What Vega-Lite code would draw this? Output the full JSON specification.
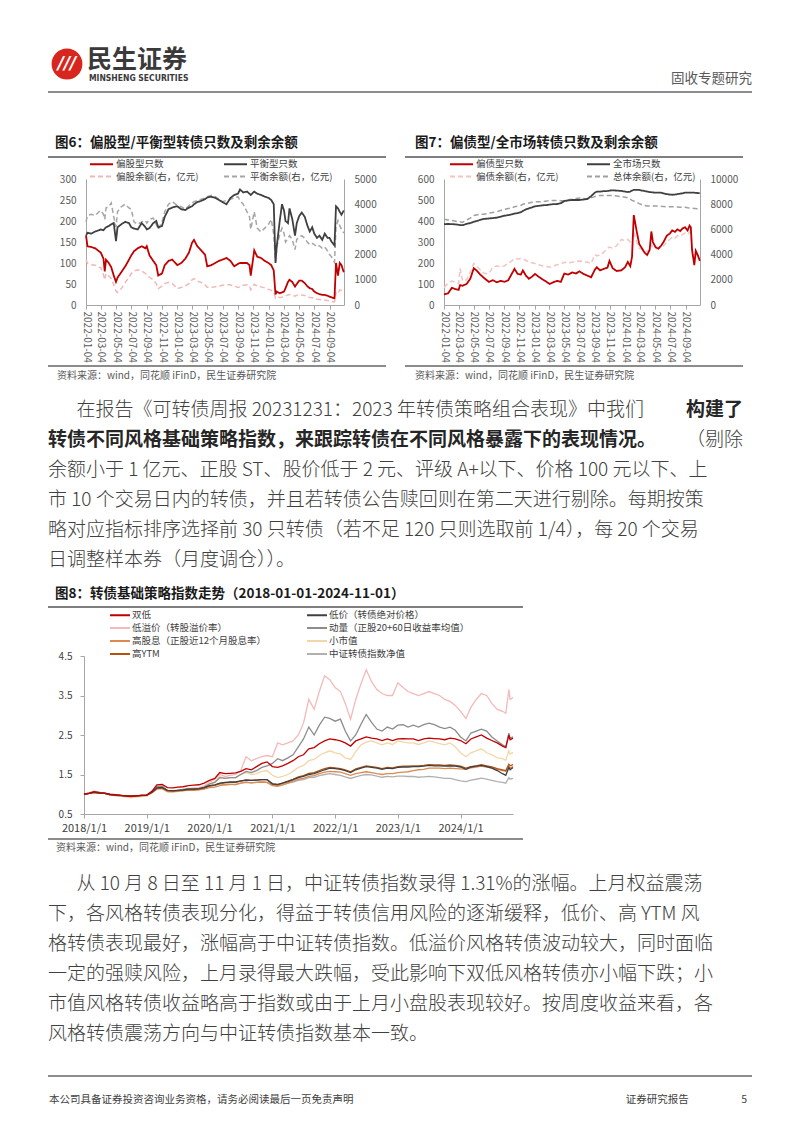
{
"$schema": "https://vega.github.io/schema/vega-lite/v6.json",
"background": "white",
"padding": {"left": 48, "top": 41, "right": 0, "bottom": 0},
"spacing": 0,
"resolve": {"scale": {"color": "independent", "strokeDash": "independent"}, "legend": {"color": "independent", "strokeDash": "independent"}},
"datasets": {
"n6": [{"key":"r","s":"偏股型只数"},{"key":"b","s":"平衡型只数"},{"key":"rp","s":"偏股余额(右，亿元)"},{"key":"bp","s":"平衡余额(右，亿元)"}],
"n7": [{"key":"r","s":"偏债型只数"},{"key":"b","s":"全市场只数"},{"key":"rp","s":"偏债余额(右，亿元)"},{"key":"bp","s":"总体余额(右，亿元)"}],
"n8": [{"key":"a","s":"双低"},{"key":"b","s":"低价（转债绝对价格）"},{"key":"c","s":"低溢价（转股溢价率）"},{"key":"d","s":"动量（正股20+60日收益率均值）"},{"key":"e","s":"高股息（正股近12个月股息率）"},{"key":"f","s":"小市值"},{"key":"g","s":"高YTM"},{"key":"h","s":"中证转债指数净值"}],
"f6": [
{"date":"2022-01-04","r":165,"b":165,"rp":1800,"bp":3300},
{"date":"2022-01-10","r":140,"b":172,"rp":1650,"bp":3550},
{"date":"2022-01-25","r":138,"b":170,"rp":1600,"bp":3600},
{"date":"2022-02-10","r":135,"b":175,"rp":1580,"bp":3550},
{"date":"2022-02-25","r":128,"b":178,"rp":1500,"bp":3700},
{"date":"2022-03-04","r":125,"b":180,"rp":1480,"bp":3750},
{"date":"2022-03-15","r":110,"b":178,"rp":1200,"bp":3600},
{"date":"2022-03-20","r":80,"b":182,"rp":1000,"bp":3400},
{"date":"2022-03-25","r":108,"b":185,"rp":1250,"bp":3850},
{"date":"2022-04-05","r":100,"b":188,"rp":1150,"bp":3900},
{"date":"2022-04-15","r":90,"b":192,"rp":1050,"bp":4050},
{"date":"2022-04-25","r":70,"b":195,"rp":800,"bp":3500},
{"date":"2022-05-04","r":55,"b":152,"rp":550,"bp":3100},
{"date":"2022-05-10","r":65,"b":185,"rp":500,"bp":3700},
{"date":"2022-05-25","r":78,"b":192,"rp":650,"bp":3900},
{"date":"2022-06-10","r":92,"b":198,"rp":900,"bp":4000},
{"date":"2022-06-25","r":108,"b":195,"rp":1100,"bp":3850},
{"date":"2022-07-04","r":118,"b":185,"rp":1250,"bp":3800},
{"date":"2022-07-15","r":128,"b":182,"rp":1350,"bp":3300},
{"date":"2022-07-30","r":135,"b":180,"rp":1400,"bp":3200},
{"date":"2022-08-15","r":140,"b":195,"rp":1350,"bp":3300},
{"date":"2022-08-30","r":135,"b":185,"rp":1250,"bp":3350},
{"date":"2022-09-04","r":140,"b":180,"rp":1200,"bp":3250},
{"date":"2022-09-15","r":118,"b":183,"rp":1100,"bp":3400},
{"date":"2022-09-30","r":105,"b":195,"rp":1000,"bp":3450},
{"date":"2022-10-12","r":95,"b":200,"rp":850,"bp":3200},
{"date":"2022-10-20","r":70,"b":185,"rp":650,"bp":3000},
{"date":"2022-11-04","r":75,"b":188,"rp":750,"bp":3300},
{"date":"2022-11-15","r":95,"b":210,"rp":850,"bp":3700},
{"date":"2022-11-30","r":105,"b":228,"rp":900,"bp":4000},
{"date":"2022-12-15","r":108,"b":232,"rp":850,"bp":4100},
{"date":"2023-01-04","r":95,"b":235,"rp":650,"bp":3950},
{"date":"2023-01-20","r":100,"b":228,"rp":700,"bp":3900},
{"date":"2023-02-05","r":110,"b":226,"rp":750,"bp":3800},
{"date":"2023-02-20","r":125,"b":232,"rp":850,"bp":3950},
{"date":"2023-03-04","r":148,"b":235,"rp":1000,"bp":4050},
{"date":"2023-03-12","r":155,"b":240,"rp":1050,"bp":4100},
{"date":"2023-03-25","r":140,"b":245,"rp":950,"bp":4150},
{"date":"2023-04-10","r":130,"b":248,"rp":900,"bp":4200},
{"date":"2023-04-25","r":120,"b":252,"rp":800,"bp":4250},
{"date":"2023-05-04","r":92,"b":256,"rp":700,"bp":4300},
{"date":"2023-05-20","r":95,"b":258,"rp":700,"bp":4350},
{"date":"2023-06-05","r":100,"b":255,"rp":720,"bp":4300},
{"date":"2023-06-20","r":105,"b":250,"rp":750,"bp":4200},
{"date":"2023-07-04","r":108,"b":245,"rp":780,"bp":4100},
{"date":"2023-07-20","r":112,"b":240,"rp":800,"bp":4150},
{"date":"2023-08-05","r":105,"b":255,"rp":800,"bp":4200},
{"date":"2023-08-20","r":92,"b":262,"rp":750,"bp":4250},
{"date":"2023-09-04","r":98,"b":265,"rp":700,"bp":4300},
{"date":"2023-09-12","r":100,"b":275,"rp":720,"bp":4150},
{"date":"2023-09-25","r":100,"b":268,"rp":780,"bp":4000},
{"date":"2023-10-10","r":100,"b":270,"rp":800,"bp":3700},
{"date":"2023-10-20","r":95,"b":265,"rp":750,"bp":3500},
{"date":"2023-10-25","r":70,"b":262,"rp":600,"bp":3000},
{"date":"2023-11-08","r":130,"b":270,"rp":820,"bp":3700},
{"date":"2023-11-20","r":115,"b":265,"rp":760,"bp":3050},
{"date":"2023-12-05","r":112,"b":262,"rp":720,"bp":2900},
{"date":"2023-12-20","r":105,"b":258,"rp":680,"bp":3050},
{"date":"2024-01-04","r":100,"b":255,"rp":620,"bp":3200},
{"date":"2024-01-15","r":95,"b":250,"rp":580,"bp":3400},
{"date":"2024-01-25","r":82,"b":240,"rp":500,"bp":2800},
{"date":"2024-02-01","r":25,"b":100,"rp":280,"bp":1700},
{"date":"2024-02-06","r":32,"b":140,"rp":320,"bp":2300},
{"date":"2024-02-18","r":28,"b":200,"rp":300,"bp":2800},
{"date":"2024-02-27","r":30,"b":240,"rp":310,"bp":3050},
{"date":"2024-03-06","r":32,"b":225,"rp":340,"bp":2850},
{"date":"2024-03-12","r":40,"b":200,"rp":360,"bp":2500},
{"date":"2024-03-22","r":55,"b":195,"rp":400,"bp":2650},
{"date":"2024-03-28","r":60,"b":230,"rp":420,"bp":2750},
{"date":"2024-04-08","r":55,"b":205,"rp":400,"bp":2600},
{"date":"2024-04-19","r":44,"b":165,"rp":350,"bp":2200},
{"date":"2024-04-26","r":50,"b":195,"rp":380,"bp":2600},
{"date":"2024-05-06","r":58,"b":212,"rp":420,"bp":2700},
{"date":"2024-05-16","r":58,"b":220,"rp":400,"bp":2750},
{"date":"2024-05-28","r":52,"b":210,"rp":380,"bp":2650},
{"date":"2024-06-07","r":45,"b":190,"rp":330,"bp":2500},
{"date":"2024-06-17","r":40,"b":175,"rp":300,"bp":2400},
{"date":"2024-06-27","r":38,"b":185,"rp":290,"bp":2450},
{"date":"2024-07-05","r":32,"b":170,"rp":260,"bp":2400},
{"date":"2024-07-16","r":28,"b":160,"rp":230,"bp":2300},
{"date":"2024-07-26","r":26,"b":165,"rp":220,"bp":2350},
{"date":"2024-08-06","r":24,"b":155,"rp":200,"bp":2250},
{"date":"2024-08-16","r":24,"b":170,"rp":200,"bp":2300},
{"date":"2024-08-27","r":22,"b":160,"rp":180,"bp":2150},
{"date":"2024-09-04","r":20,"b":160,"rp":160,"bp":2000},
{"date":"2024-09-13","r":18,"b":150,"rp":140,"bp":1900},
{"date":"2024-09-24","r":16,"b":142,"rp":120,"bp":1700},
{"date":"2024-09-30","r":100,"b":235,"rp":500,"bp":3100},
{"date":"2024-10-08","r":70,"b":230,"rp":450,"bp":3350},
{"date":"2024-10-15","r":100,"b":222,"rp":600,"bp":3150},
{"date":"2024-10-22","r":95,"b":215,"rp":580,"bp":3000},
{"date":"2024-10-31","r":78,"b":225,"rp":550,"bp":2850}
],
"f7": [
{"date":"2022-01-04","r":50,"b":385,"rp":1400,"bp":6800},
{"date":"2022-01-20","r":55,"b":386,"rp":1700,"bp":6750},
{"date":"2022-02-05","r":82,"b":385,"rp":1900,"bp":6700},
{"date":"2022-02-20","r":75,"b":384,"rp":1800,"bp":6650},
{"date":"2022-03-04","r":72,"b":382,"rp":1700,"bp":6600},
{"date":"2022-03-10","r":95,"b":380,"rp":2900,"bp":6600},
{"date":"2022-03-20","r":92,"b":380,"rp":1900,"bp":6550},
{"date":"2022-04-05","r":100,"b":386,"rp":2000,"bp":6750},
{"date":"2022-04-20","r":125,"b":390,"rp":2600,"bp":6900},
{"date":"2022-05-04","r":175,"b":396,"rp":3300,"bp":7100},
{"date":"2022-05-15","r":165,"b":400,"rp":3100,"bp":7150},
{"date":"2022-05-30","r":145,"b":405,"rp":2800,"bp":7200},
{"date":"2022-06-15","r":128,"b":410,"rp":2500,"bp":7200},
{"date":"2022-07-04","r":110,"b":412,"rp":2500,"bp":7300},
{"date":"2022-07-20","r":118,"b":414,"rp":3000,"bp":7350},
{"date":"2022-08-05","r":108,"b":416,"rp":3100,"bp":7400},
{"date":"2022-08-20","r":115,"b":420,"rp":3050,"bp":7500},
{"date":"2022-09-04","r":110,"b":425,"rp":3100,"bp":7600},
{"date":"2022-09-20","r":118,"b":428,"rp":3300,"bp":7650},
{"date":"2022-10-05","r":150,"b":432,"rp":3500,"bp":7700},
{"date":"2022-10-15","r":172,"b":435,"rp":3700,"bp":7800},
{"date":"2022-10-28","r":148,"b":438,"rp":3650,"bp":7850},
{"date":"2022-11-10","r":145,"b":442,"rp":3700,"bp":7900},
{"date":"2022-11-18","r":165,"b":448,"rp":3650,"bp":8000},
{"date":"2022-11-30","r":140,"b":455,"rp":3550,"bp":8050},
{"date":"2022-12-12","r":125,"b":460,"rp":3400,"bp":8100},
{"date":"2022-12-25","r":135,"b":465,"rp":3350,"bp":8150},
{"date":"2023-01-06","r":148,"b":470,"rp":3300,"bp":8200},
{"date":"2023-01-20","r":135,"b":472,"rp":3200,"bp":8200},
{"date":"2023-02-08","r":120,"b":475,"rp":3100,"bp":8200},
{"date":"2023-02-22","r":110,"b":476,"rp":3050,"bp":8250},
{"date":"2023-03-06","r":100,"b":478,"rp":3000,"bp":8300},
{"date":"2023-03-20","r":108,"b":480,"rp":3100,"bp":8300},
{"date":"2023-04-05","r":115,"b":481,"rp":3200,"bp":8300},
{"date":"2023-04-20","r":110,"b":485,"rp":3250,"bp":8280},
{"date":"2023-05-04","r":150,"b":495,"rp":3400,"bp":8300},
{"date":"2023-05-20","r":145,"b":498,"rp":3350,"bp":8350},
{"date":"2023-06-05","r":155,"b":500,"rp":3400,"bp":8400},
{"date":"2023-06-20","r":150,"b":500,"rp":3450,"bp":8450},
{"date":"2023-07-04","r":160,"b":500,"rp":3500,"bp":8500},
{"date":"2023-07-20","r":148,"b":502,"rp":3450,"bp":8450},
{"date":"2023-08-05","r":140,"b":505,"rp":3400,"bp":8400},
{"date":"2023-08-20","r":132,"b":518,"rp":3300,"bp":8500},
{"date":"2023-09-04","r":168,"b":535,"rp":4000,"bp":8600},
{"date":"2023-09-12","r":180,"b":540,"rp":3900,"bp":8650},
{"date":"2023-09-25","r":165,"b":540,"rp":3950,"bp":8700},
{"date":"2023-10-10","r":172,"b":542,"rp":4200,"bp":8700},
{"date":"2023-10-25","r":178,"b":543,"rp":4500,"bp":8700},
{"date":"2023-11-02","r":210,"b":545,"rp":4600,"bp":8700},
{"date":"2023-11-15","r":175,"b":546,"rp":4500,"bp":8680},
{"date":"2023-12-01","r":162,"b":545,"rp":4700,"bp":8650},
{"date":"2023-12-20","r":165,"b":543,"rp":5200,"bp":8600},
{"date":"2024-01-04","r":180,"b":540,"rp":5100,"bp":8550},
{"date":"2024-01-15","r":205,"b":538,"rp":5200,"bp":8500},
{"date":"2024-01-25","r":185,"b":540,"rp":5000,"bp":8400},
{"date":"2024-02-01","r":230,"b":545,"rp":5100,"bp":8300},
{"date":"2024-02-08","r":428,"b":548,"rp":5800,"bp":8250},
{"date":"2024-02-20","r":350,"b":548,"rp":5000,"bp":8150},
{"date":"2024-03-01","r":290,"b":548,"rp":4500,"bp":8050},
{"date":"2024-03-12","r":270,"b":545,"rp":4400,"bp":7950},
{"date":"2024-03-22","r":250,"b":543,"rp":4300,"bp":7900},
{"date":"2024-04-02","r":238,"b":540,"rp":4250,"bp":7850},
{"date":"2024-04-12","r":262,"b":538,"rp":4400,"bp":7850},
{"date":"2024-04-19","r":350,"b":537,"rp":4800,"bp":7850},
{"date":"2024-04-25","r":300,"b":536,"rp":4600,"bp":7850},
{"date":"2024-05-06","r":275,"b":535,"rp":4500,"bp":7850},
{"date":"2024-05-17","r":268,"b":535,"rp":4450,"bp":7850},
{"date":"2024-05-28","r":282,"b":535,"rp":4600,"bp":7830},
{"date":"2024-06-07","r":300,"b":532,"rp":4700,"bp":7820},
{"date":"2024-06-20","r":330,"b":528,"rp":5000,"bp":7800},
{"date":"2024-07-02","r":340,"b":526,"rp":5200,"bp":7800},
{"date":"2024-07-12","r":355,"b":525,"rp":5400,"bp":7800},
{"date":"2024-07-23","r":348,"b":526,"rp":5300,"bp":7780},
{"date":"2024-08-02","r":360,"b":528,"rp":5500,"bp":7780},
{"date":"2024-08-13","r":352,"b":530,"rp":5450,"bp":7760},
{"date":"2024-08-23","r":365,"b":532,"rp":5600,"bp":7750},
{"date":"2024-09-02","r":370,"b":535,"rp":5700,"bp":7750},
{"date":"2024-09-12","r":355,"b":535,"rp":5600,"bp":7720},
{"date":"2024-09-20","r":378,"b":535,"rp":5800,"bp":7700},
{"date":"2024-09-25","r":370,"b":535,"rp":5700,"bp":7700},
{"date":"2024-09-30","r":262,"b":535,"rp":4300,"bp":7680},
{"date":"2024-10-09","r":190,"b":535,"rp":3300,"bp":7650},
{"date":"2024-10-15","r":258,"b":534,"rp":4200,"bp":7650},
{"date":"2024-10-24","r":235,"b":533,"rp":3900,"bp":7620},
{"date":"2024-10-31","r":210,"b":533,"rp":3600,"bp":7600}
],
"f8": [
{"date":"2018-01-01","a":1.00,"b":1.00,"c":1.00,"d":1.00,"e":1.00,"f":1.00,"g":1.00,"h":1.00},
{"date":"2018-02-01","a":1.03,"b":1.02,"c":1.04,"d":1.03,"e":1.02,"f":1.03,"g":1.02,"h":1.02},
{"date":"2018-03-01","a":1.06,"b":1.05,"c":1.08,"d":1.07,"e":1.05,"f":1.06,"g":1.05,"h":1.05},
{"date":"2018-04-01","a":1.04,"b":1.03,"c":1.05,"d":1.05,"e":1.03,"f":1.03,"g":1.03,"h":1.03},
{"date":"2018-05-01","a":1.03,"b":1.02,"c":1.03,"d":1.03,"e":1.02,"f":1.02,"g":1.02,"h":1.02},
{"date":"2018-06-01","a":1.00,"b":0.99,"c":1.00,"d":0.99,"e":0.99,"f":0.98,"g":0.99,"h":0.98},
{"date":"2018-07-01","a":0.99,"b":0.98,"c":0.98,"d":0.97,"e":0.98,"f":0.96,"g":0.98,"h":0.97},
{"date":"2018-08-01","a":0.97,"b":0.97,"c":0.96,"d":0.96,"e":0.97,"f":0.95,"g":0.97,"h":0.96},
{"date":"2018-09-01","a":0.96,"b":0.96,"c":0.95,"d":0.95,"e":0.96,"f":0.93,"g":0.96,"h":0.95},
{"date":"2018-10-01","a":0.95,"b":0.95,"c":0.93,"d":0.94,"e":0.95,"f":0.91,"g":0.95,"h":0.94},
{"date":"2018-11-01","a":0.96,"b":0.96,"c":0.95,"d":0.95,"e":0.96,"f":0.93,"g":0.96,"h":0.95},
{"date":"2018-12-01","a":0.97,"b":0.97,"c":0.96,"d":0.96,"e":0.97,"f":0.94,"g":0.97,"h":0.96},
{"date":"2019-01-01","a":0.98,"b":0.98,"c":0.97,"d":0.97,"e":0.97,"f":0.95,"g":0.98,"h":0.96},
{"date":"2019-02-01","a":1.08,"b":1.05,"c":1.06,"d":1.06,"e":1.04,"f":1.03,"g":1.05,"h":1.05},
{"date":"2019-03-01","a":1.24,"b":1.16,"c":1.20,"d":1.20,"e":1.13,"f":1.16,"g":1.15,"h":1.15},
{"date":"2019-04-01","a":1.25,"b":1.17,"c":1.21,"d":1.20,"e":1.14,"f":1.17,"g":1.16,"h":1.15},
{"date":"2019-05-01","a":1.17,"b":1.10,"c":1.10,"d":1.09,"e":1.07,"f":1.06,"g":1.09,"h":1.07},
{"date":"2019-06-01","a":1.16,"b":1.09,"c":1.08,"d":1.08,"e":1.07,"f":1.05,"g":1.08,"h":1.06},
{"date":"2019-07-01","a":1.18,"b":1.10,"c":1.10,"d":1.10,"e":1.08,"f":1.07,"g":1.09,"h":1.08},
{"date":"2019-08-01","a":1.19,"b":1.11,"c":1.12,"d":1.12,"e":1.09,"f":1.09,"g":1.10,"h":1.09},
{"date":"2019-09-01","a":1.22,"b":1.13,"c":1.15,"d":1.14,"e":1.10,"f":1.12,"g":1.12,"h":1.11},
{"date":"2019-10-01","a":1.23,"b":1.13,"c":1.16,"d":1.14,"e":1.10,"f":1.12,"g":1.12,"h":1.11},
{"date":"2019-11-01","a":1.24,"b":1.14,"c":1.17,"d":1.15,"e":1.11,"f":1.13,"g":1.13,"h":1.12},
{"date":"2019-12-01","a":1.28,"b":1.17,"c":1.21,"d":1.18,"e":1.13,"f":1.17,"g":1.16,"h":1.15},
{"date":"2020-01-01","a":1.35,"b":1.22,"c":1.30,"d":1.26,"e":1.17,"f":1.25,"g":1.21,"h":1.20},
{"date":"2020-02-01","a":1.40,"b":1.24,"c":1.38,"d":1.30,"e":1.18,"f":1.32,"g":1.23,"h":1.22},
{"date":"2020-03-01","a":1.55,"b":1.28,"c":1.50,"d":1.42,"e":1.22,"f":1.45,"g":1.27,"h":1.26},
{"date":"2020-04-01","a":1.52,"b":1.30,"c":1.45,"d":1.40,"e":1.24,"f":1.40,"g":1.29,"h":1.24},
{"date":"2020-05-01","a":1.53,"b":1.31,"c":1.48,"d":1.42,"e":1.25,"f":1.42,"g":1.30,"h":1.25},
{"date":"2020-06-01","a":1.54,"b":1.31,"c":1.50,"d":1.42,"e":1.25,"f":1.42,"g":1.30,"h":1.24},
{"date":"2020-07-01","a":1.58,"b":1.34,"c":1.60,"d":1.50,"e":1.28,"f":1.50,"g":1.33,"h":1.28},
{"date":"2020-08-01","a":1.65,"b":1.36,"c":1.95,"d":1.58,"e":1.30,"f":1.55,"g":1.36,"h":1.31},
{"date":"2020-09-01","a":1.62,"b":1.35,"c":1.85,"d":1.55,"e":1.29,"f":1.50,"g":1.35,"h":1.29},
{"date":"2020-10-01","a":1.70,"b":1.36,"c":1.90,"d":1.60,"e":1.30,"f":1.52,"g":1.36,"h":1.30},
{"date":"2020-11-01","a":1.78,"b":1.37,"c":1.95,"d":1.68,"e":1.31,"f":1.58,"g":1.37,"h":1.31},
{"date":"2020-12-01","a":1.82,"b":1.37,"c":1.98,"d":1.72,"e":1.30,"f":1.60,"g":1.37,"h":1.30},
{"date":"2021-01-01","a":1.70,"b":1.27,"c":1.95,"d":1.78,"e":1.22,"f":1.48,"g":1.25,"h":1.24},
{"date":"2021-02-01","a":1.68,"b":1.25,"c":2.30,"d":1.90,"e":1.20,"f":1.42,"g":1.24,"h":1.22},
{"date":"2021-03-01","a":1.72,"b":1.28,"c":2.25,"d":1.85,"e":1.24,"f":1.45,"g":1.28,"h":1.24},
{"date":"2021-04-01","a":1.78,"b":1.32,"c":2.30,"d":1.92,"e":1.28,"f":1.50,"g":1.33,"h":1.28},
{"date":"2021-05-01","a":1.85,"b":1.37,"c":2.35,"d":2.00,"e":1.33,"f":1.58,"g":1.38,"h":1.31},
{"date":"2021-06-01","a":1.95,"b":1.42,"c":2.50,"d":2.20,"e":1.38,"f":1.68,"g":1.44,"h":1.35},
{"date":"2021-07-01","a":2.00,"b":1.45,"c":2.80,"d":2.40,"e":1.40,"f":1.73,"g":1.47,"h":1.37},
{"date":"2021-08-01","a":2.15,"b":1.50,"c":3.40,"d":2.70,"e":1.45,"f":1.85,"g":1.53,"h":1.42},
{"date":"2021-09-01","a":2.18,"b":1.52,"c":3.15,"d":2.50,"e":1.47,"f":1.88,"g":1.55,"h":1.43},
{"date":"2021-10-01","a":2.28,"b":1.57,"c":3.60,"d":2.75,"e":1.52,"f":1.98,"g":1.60,"h":1.47},
{"date":"2021-11-01","a":2.35,"b":1.62,"c":4.00,"d":2.95,"e":1.56,"f":2.05,"g":1.65,"h":1.50},
{"date":"2021-12-01","a":2.40,"b":1.66,"c":3.90,"d":2.92,"e":1.58,"f":2.10,"g":1.68,"h":1.52},
{"date":"2022-01-01","a":2.38,"b":1.65,"c":3.70,"d":2.85,"e":1.57,"f":2.05,"g":1.67,"h":1.50},
{"date":"2022-02-01","a":2.35,"b":1.63,"c":3.60,"d":2.90,"e":1.56,"f":2.02,"g":1.65,"h":1.48},
{"date":"2022-03-01","a":2.30,"b":1.60,"c":3.30,"d":2.60,"e":1.52,"f":1.92,"g":1.62,"h":1.44},
{"date":"2022-04-01","a":2.22,"b":1.55,"c":2.90,"d":2.35,"e":1.48,"f":1.88,"g":1.57,"h":1.40},
{"date":"2022-05-01","a":2.35,"b":1.62,"c":3.40,"d":2.50,"e":1.52,"f":2.08,"g":1.64,"h":1.44},
{"date":"2022-06-01","a":2.40,"b":1.66,"c":3.80,"d":2.78,"e":1.55,"f":2.25,"g":1.68,"h":1.48},
{"date":"2022-07-01","a":2.45,"b":1.70,"c":4.15,"d":3.02,"e":1.57,"f":2.32,"g":1.72,"h":1.50},
{"date":"2022-08-01","a":2.42,"b":1.68,"c":3.85,"d":2.82,"e":1.55,"f":2.35,"g":1.70,"h":1.49},
{"date":"2022-09-01","a":2.40,"b":1.66,"c":3.65,"d":2.65,"e":1.52,"f":2.30,"g":1.68,"h":1.46},
{"date":"2022-10-01","a":2.36,"b":1.63,"c":3.55,"d":2.60,"e":1.50,"f":2.25,"g":1.65,"h":1.43},
{"date":"2022-11-01","a":2.40,"b":1.66,"c":3.50,"d":2.70,"e":1.52,"f":2.30,"g":1.68,"h":1.45},
{"date":"2022-12-01","a":2.36,"b":1.65,"c":3.50,"d":2.65,"e":1.52,"f":2.26,"g":1.67,"h":1.44},
{"date":"2023-01-01","a":2.40,"b":1.68,"c":3.82,"d":2.75,"e":1.55,"f":2.35,"g":1.70,"h":1.46},
{"date":"2023-02-01","a":2.41,"b":1.69,"c":3.70,"d":2.76,"e":1.56,"f":2.32,"g":1.71,"h":1.46},
{"date":"2023-03-01","a":2.40,"b":1.69,"c":3.60,"d":2.70,"e":1.57,"f":2.30,"g":1.71,"h":1.45},
{"date":"2023-04-01","a":2.40,"b":1.70,"c":3.55,"d":2.75,"e":1.60,"f":2.30,"g":1.72,"h":1.45},
{"date":"2023-05-01","a":2.36,"b":1.70,"c":3.50,"d":2.70,"e":1.62,"f":2.26,"g":1.72,"h":1.43},
{"date":"2023-06-01","a":2.40,"b":1.71,"c":3.55,"d":2.76,"e":1.63,"f":2.30,"g":1.73,"h":1.44},
{"date":"2023-07-01","a":2.42,"b":1.73,"c":3.60,"d":2.80,"e":1.66,"f":2.35,"g":1.75,"h":1.45},
{"date":"2023-08-01","a":2.41,"b":1.72,"c":3.55,"d":2.76,"e":1.66,"f":2.32,"g":1.74,"h":1.44},
{"date":"2023-09-01","a":2.40,"b":1.72,"c":3.50,"d":2.70,"e":1.66,"f":2.28,"g":1.74,"h":1.42},
{"date":"2023-10-01","a":2.38,"b":1.71,"c":3.40,"d":2.66,"e":1.65,"f":2.25,"g":1.73,"h":1.40},
{"date":"2023-11-01","a":2.42,"b":1.72,"c":3.35,"d":2.70,"e":1.66,"f":2.30,"g":1.74,"h":1.40},
{"date":"2023-12-01","a":2.40,"b":1.71,"c":3.25,"d":2.62,"e":1.65,"f":2.20,"g":1.73,"h":1.37},
{"date":"2024-01-01","a":2.36,"b":1.69,"c":3.10,"d":2.45,"e":1.64,"f":2.05,"g":1.71,"h":1.34},
{"date":"2024-02-01","a":2.28,"b":1.63,"c":2.92,"d":2.35,"e":1.63,"f":1.95,"g":1.66,"h":1.32},
{"date":"2024-03-01","a":2.40,"b":1.69,"c":3.20,"d":2.55,"e":1.67,"f":2.05,"g":1.70,"h":1.36},
{"date":"2024-04-01","a":2.45,"b":1.71,"c":3.40,"d":2.60,"e":1.69,"f":2.10,"g":1.72,"h":1.38},
{"date":"2024-05-01","a":2.50,"b":1.73,"c":3.55,"d":2.65,"e":1.71,"f":2.15,"g":1.75,"h":1.41},
{"date":"2024-06-01","a":2.42,"b":1.70,"c":3.50,"d":2.60,"e":1.69,"f":2.05,"g":1.72,"h":1.38},
{"date":"2024-07-01","a":2.36,"b":1.66,"c":3.30,"d":2.45,"e":1.67,"f":2.00,"g":1.69,"h":1.35},
{"date":"2024-08-01","a":2.30,"b":1.60,"c":3.15,"d":2.35,"e":1.63,"f":1.92,"g":1.65,"h":1.32},
{"date":"2024-09-01","a":2.22,"b":1.52,"c":3.10,"d":2.25,"e":1.60,"f":1.90,"g":1.62,"h":1.30},
{"date":"2024-09-20","a":2.18,"b":1.48,"c":3.05,"d":2.20,"e":1.58,"f":1.86,"g":1.60,"h":1.28},
{"date":"2024-10-08","a":2.50,"b":1.68,"c":3.65,"d":2.55,"e":1.70,"f":2.10,"g":1.76,"h":1.42},
{"date":"2024-10-15","a":2.38,"b":1.62,"c":3.40,"d":2.42,"e":1.66,"f":2.02,"g":1.72,"h":1.38},
{"date":"2024-11-01","a":2.42,"b":1.68,"c":3.45,"d":2.45,"e":1.70,"f":2.06,"g":1.75,"h":1.40}
],
"p1": [
{"line":1,"seg":"start","em":false,"t":"\u200b　\u2002在报告《可转债周报 20231231：2023 年转债策略组合表现》中我们"},
{"line":1,"seg":"end","em":true,"t":"构建了"},
{"line":2,"seg":"start","em":true,"t":"转债不同风格基础策略指数，来跟踪转债在不同风格暴露下的表现情况。"},
{"line":2,"seg":"end","em":false,"t":"（剔除"},
{"line":3,"seg":"start","em":false,"t":"余额小于 1 亿元、正股 ST、股价低于 2 元、评级 A+以下、价格 100 元以下、上"},
{"line":4,"seg":"start","em":false,"t":"市 10 个交易日内的转债，并且若转债公告赎回则在第二天进行剔除。每期按策"},
{"line":5,"seg":"start","em":false,"t":"略对应指标排序选择前 30 只转债（若不足 120 只则选取前 1/4），每 20 个交易"},
{"line":6,"seg":"start","em":false,"t":"日调整样本券（月度调仓））。"}
],
"p2": [
{"line":1,"t":"\u200b　\u2002从 10 月 8 日至 11 月 1 日，中证转债指数录得 1.31%的涨幅。上月权益震荡"},
{"line":2,"t":"下，各风格转债表现分化，得益于转债信用风险的逐渐缓释，低价、高 YTM 风"},
{"line":3,"t":"格转债表现最好，涨幅高于中证转债指数。低溢价风格转债波动较大，同时面临"},
{"line":4,"t":"一定的强赎风险，上月录得最大跌幅，受此影响下双低风格转债亦小幅下跌；小"},
{"line":5,"t":"市值风格转债收益略高于指数或由于上月小盘股表现较好。按周度收益来看，各"},
{"line":6,"t":"风格转债震荡方向与中证转债指数基本一致。"}
]
},
"vconcat": [
{"hconcat": [
  {"width": 38, "height": 46, "data": {"values": [{"m": "///"}]},
   "layer": [
     {"mark": {"type": "point", "filled": true, "size": 950, "color": "#D7261E", "opacity": 1, "strokeWidth": 0}},
     {"mark": {"type": "text", "color": "white", "fontSize": 17, "fontWeight": "bold", "fontStyle": "italic", "font": "DejaVu Sans"}, "encoding": {"text": {"field": "m"}}}
   ]},
  {"width": 666, "height": 50,
   "layer": [
     {"data": {"values": [{"t": "民生证券"}]}, "mark": {"type": "text", "align": "left", "fontSize": 25, "fontWeight": "bold", "color": "#3a3a3a", "font": "Noto Sans CJK SC", "dx": 1},
      "encoding": {"text": {"field": "t"}, "x": {"datum": 0, "type": "quantitative", "scale": {"domain": [0, 1]}, "axis": null}, "y": {"datum": "name", "type": "ordinal", "scale": {"domain": ["name", "en"], "range": [19, 37], "padding": 0}, "axis": null}}},
     {"data": {"values": [{"t": "MINSHENG SECURITIES"}]}, "mark": {"type": "text", "align": "left", "fontSize": 8.5, "fontWeight": "bold", "color": "#3a3a3a", "font": "Liberation Sans Narrow, DejaVu Sans Condensed, sans-serif", "dx": 3},
      "encoding": {"text": {"field": "t"}, "x": {"datum": 0, "type": "quantitative", "scale": {"domain": [0, 1]}, "axis": null}, "y": {"datum": "en", "type": "ordinal", "scale": {"domain": ["name", "en"], "range": [19, 37], "padding": 0}, "axis": null}}},
     {"data": {"values": [{"t": "固收专题研究"}]}, "mark": {"type": "text", "align": "right", "fontSize": 13.5, "color": "#595959", "font": "Noto Sans CJK SC", "dy": 1},
      "encoding": {"text": {"field": "t"}, "x": {"datum": 1, "type": "quantitative", "scale": {"domain": [0, 1]}, "axis": null}, "y": {"datum": "en", "type": "ordinal", "scale": {"domain": ["name", "en"], "range": [19, 37], "padding": 0}, "axis": null}}}
   ]}
 ], "spacing": 0},
{"width": 704, "height": 2, "view": {"fill": "#8c8c8c", "stroke": null}, "data": {"values": []}, "mark": "point"},
{"width": 1, "height": 41, "data": {"values": []}, "mark": "point"},
{"hconcat": [
  {"vconcat": [
    {"width": 338, "height": 22, "data": {"values": [{"t": "图6：偏股型/平衡型转债只数及剩余余额"}]}, "mark": {"type": "text", "align": "left", "fontSize": 13.5, "fontWeight": "bold", "color": "#1a1a1a", "font": "Noto Sans CJK SC", "dx": 7, "dy": -2}, "encoding": {"text": {"field": "t"}, "x": {"datum": 0, "type": "quantitative", "scale": {"domain": [0, 1]}, "axis": null}}},
    {"width": 338, "height": 2, "view": {"fill": "#7f7f7f", "stroke": null}, "data": {"values": []}, "mark": "point"},
    {"width": 338, "height": 207, "data": {"name": "f6"},
     "encoding": {
       "x": {"field": "date", "type": "temporal", "scale": {"type": "utc", "domain": [{"year": 2022, "month": 1, "date": 4, "utc": true}, {"year": 2024, "month": 11, "date": 1, "utc": true}], "range": [38, 296]},
             "axis": {"title": null, "grid": false, "values": [{"year":2022,"month":1,"date":4,"utc":true},{"year":2022,"month":3,"date":4,"utc":true},{"year":2022,"month":5,"date":4,"utc":true},{"year":2022,"month":7,"date":4,"utc":true},{"year":2022,"month":9,"date":4,"utc":true},{"year":2022,"month":11,"date":4,"utc":true},{"year":2023,"month":1,"date":4,"utc":true},{"year":2023,"month":3,"date":4,"utc":true},{"year":2023,"month":5,"date":4,"utc":true},{"year":2023,"month":7,"date":4,"utc":true},{"year":2023,"month":9,"date":4,"utc":true},{"year":2023,"month":11,"date":4,"utc":true},{"year":2024,"month":1,"date":4,"utc":true},{"year":2024,"month":3,"date":4,"utc":true},{"year":2024,"month":5,"date":4,"utc":true},{"year":2024,"month":7,"date":4,"utc":true},{"year":2024,"month":9,"date":4,"utc":true}],
                      "format": "%Y-%m-%d", "labelAngle": 90, "labelFontSize": 10, "labelColor": "#595959", "labelPadding": 2, "tickSize": 4, "tickColor": "#A6A6A6", "domainColor": "#A6A6A6", "offset": -60, "labelOverlap": false, "labelFlush": false}},
       "color": {"field": "s", "type": "nominal", "scale": {"domain": ["偏股型只数", "偏股余额(右，亿元)", "平衡型只数", "平衡余额(右，亿元)"], "range": ["#C00000", "#F2B8B8", "#404040", "#A6A6A6"]},
                 "legend": {"title": null, "orient": "none", "legendX": 47.5, "legendY": 0, "columns": 2, "columnPadding": 21, "rowPadding": 1.5, "symbolType": "M-2.3,0L2.3,0", "symbolSize": 100, "symbolStrokeWidth": 2, "labelFontSize": 9.5, "labelColor": "#404040", "labelOffset": 8.5, "padding": 0}},
       "strokeDash": {"field": "s", "type": "nominal", "scale": {"domain": ["偏股型只数", "偏股余额(右，亿元)", "平衡型只数", "平衡余额(右，亿元)"], "range": [[1, 0], [5, 3], [1, 0], [5, 3]]},
                 "legend": {"title": null, "orient": "none", "legendX": 47.5, "legendY": 0, "columns": 2, "columnPadding": 21, "rowPadding": 1.5, "symbolType": "M-2.3,0L2.3,0", "symbolSize": 100, "symbolStrokeWidth": 2, "labelFontSize": 9.5, "labelColor": "#404040", "labelOffset": 8.5, "padding": 0}}
     },
     "layer": [
       {"transform": [{"fold": ["rp", "bp"], "as": ["key", "v"]}, {"lookup": "key", "from": {"data": {"name": "n6"}, "key": "key", "fields": ["s"]}}],
        "mark": {"type": "line", "strokeWidth": 1.5},
        "encoding": {"y": {"field": "v", "type": "quantitative", "scale": {"domain": [0, 5000], "range": [147, 21], "nice": false}, "axis": {"orient": "right", "offset": -42, "title": null, "grid": false, "values": [0, 1000, 2000, 3000, 4000, 5000], "format": "d", "ticks": false, "domainColor": "#A6A6A6", "labelFontSize": 10, "labelColor": "#595959", "labelPadding": 10}}}},
       {"transform": [{"fold": ["r", "b"], "as": ["key", "v"]}, {"lookup": "key", "from": {"data": {"name": "n6"}, "key": "key", "fields": ["s"]}}],
        "mark": {"type": "line", "strokeWidth": 1.8},
        "encoding": {"y": {"field": "v", "type": "quantitative", "scale": {"domain": [0, 300], "range": [147, 21], "nice": false}, "axis": {"orient": "left", "offset": -38, "title": null, "grid": false, "values": [0, 50, 100, 150, 200, 250, 300], "format": "d", "ticks": false, "domainColor": "#A6A6A6", "labelFontSize": 10, "labelColor": "#595959", "labelPadding": 10}}}}
     ],
     "resolve": {"scale": {"y": "independent"}}},
    {"width": 338, "height": 2, "view": {"fill": "#8c8c8c", "stroke": null}, "data": {"values": []}, "mark": "point"},
    {"width": 338, "height": 18, "data": {"values": [{"t": "资料来源：wind，同花顺 iFinD，民生证券研究院"}]}, "mark": {"type": "text", "align": "left", "fontSize": 10, "color": "#595959", "font": "Noto Sans CJK SC", "dx": 9}, "encoding": {"text": {"field": "t"}, "x": {"datum": 0, "type": "quantitative", "scale": {"domain": [0, 1]}, "axis": null}}}
  ], "spacing": 0, "resolve": {"scale": {"color": "independent", "strokeDash": "independent"}, "legend": {"color": "independent", "strokeDash": "independent"}}},
  {"vconcat": [
    {"width": 338, "height": 22, "data": {"values": [{"t": "图7：偏债型/全市场转债只数及剩余余额"}]}, "mark": {"type": "text", "align": "left", "fontSize": 13.5, "fontWeight": "bold", "color": "#1a1a1a", "font": "Noto Sans CJK SC", "dx": 10, "dy": -2}, "encoding": {"text": {"field": "t"}, "x": {"datum": 0, "type": "quantitative", "scale": {"domain": [0, 1]}, "axis": null}}},
    {"width": 338, "height": 2, "view": {"fill": "#7f7f7f", "stroke": null}, "data": {"values": []}, "mark": "point"},
    {"width": 338, "height": 207, "data": {"name": "f7"},
     "encoding": {
       "x": {"field": "date", "type": "temporal", "scale": {"type": "utc", "domain": [{"year": 2022, "month": 1, "date": 4, "utc": true}, {"year": 2024, "month": 11, "date": 1, "utc": true}], "range": [39, 295]},
             "axis": {"title": null, "grid": false, "values": [{"year":2022,"month":1,"date":4,"utc":true},{"year":2022,"month":3,"date":4,"utc":true},{"year":2022,"month":5,"date":4,"utc":true},{"year":2022,"month":7,"date":4,"utc":true},{"year":2022,"month":9,"date":4,"utc":true},{"year":2022,"month":11,"date":4,"utc":true},{"year":2023,"month":1,"date":4,"utc":true},{"year":2023,"month":3,"date":4,"utc":true},{"year":2023,"month":5,"date":4,"utc":true},{"year":2023,"month":7,"date":4,"utc":true},{"year":2023,"month":9,"date":4,"utc":true},{"year":2023,"month":11,"date":4,"utc":true},{"year":2024,"month":1,"date":4,"utc":true},{"year":2024,"month":3,"date":4,"utc":true},{"year":2024,"month":5,"date":4,"utc":true},{"year":2024,"month":7,"date":4,"utc":true},{"year":2024,"month":9,"date":4,"utc":true}],
                      "format": "%Y-%m-%d", "labelAngle": 90, "labelFontSize": 10, "labelColor": "#595959", "labelPadding": 2, "tickSize": 4, "tickColor": "#A6A6A6", "domainColor": "#A6A6A6", "offset": -60, "labelOverlap": false, "labelFlush": false}},
       "color": {"field": "s", "type": "nominal", "scale": {"domain": ["偏债型只数", "偏债余额(右，亿元)", "全市场只数", "总体余额(右，亿元)"], "range": ["#C00000", "#F2C4C4", "#404040", "#A0A0A0"]},
                 "legend": {"title": null, "orient": "none", "legendX": 50.5, "legendY": 0, "columns": 2, "columnPadding": 24, "rowPadding": 1.5, "symbolType": "M-2.3,0L2.3,0", "symbolSize": 100, "symbolStrokeWidth": 2, "labelFontSize": 9.5, "labelColor": "#404040", "labelOffset": 8.5, "padding": 0}},
       "strokeDash": {"field": "s", "type": "nominal", "scale": {"domain": ["偏债型只数", "偏债余额(右，亿元)", "全市场只数", "总体余额(右，亿元)"], "range": [[1, 0], [5, 3], [1, 0], [5, 3]]},
                 "legend": {"title": null, "orient": "none", "legendX": 50.5, "legendY": 0, "columns": 2, "columnPadding": 24, "rowPadding": 1.5, "symbolType": "M-2.3,0L2.3,0", "symbolSize": 100, "symbolStrokeWidth": 2, "labelFontSize": 9.5, "labelColor": "#404040", "labelOffset": 8.5, "padding": 0}}
     },
     "layer": [
       {"transform": [{"fold": ["rp", "bp"], "as": ["key", "v"]}, {"lookup": "key", "from": {"data": {"name": "n7"}, "key": "key", "fields": ["s"]}}],
        "mark": {"type": "line", "strokeWidth": 1.5},
        "encoding": {"y": {"field": "v", "type": "quantitative", "scale": {"domain": [0, 10000], "range": [147, 21], "nice": false}, "axis": {"orient": "right", "offset": -43, "title": null, "grid": false, "values": [0, 2000, 4000, 6000, 8000, 10000], "format": "d", "ticks": false, "domainColor": "#A6A6A6", "labelFontSize": 10, "labelColor": "#595959", "labelPadding": 10}}}},
       {"transform": [{"fold": ["r", "b"], "as": ["key", "v"]}, {"lookup": "key", "from": {"data": {"name": "n7"}, "key": "key", "fields": ["s"]}}],
        "mark": {"type": "line", "strokeWidth": 1.8},
        "encoding": {"y": {"field": "v", "type": "quantitative", "scale": {"domain": [0, 600], "range": [147, 21], "nice": false}, "axis": {"orient": "left", "offset": -39, "title": null, "grid": false, "values": [0, 100, 200, 300, 400, 500, 600], "format": "d", "ticks": false, "domainColor": "#A6A6A6", "labelFontSize": 10, "labelColor": "#595959", "labelPadding": 10}}}}
     ],
     "resolve": {"scale": {"y": "independent"}}},
    {"width": 338, "height": 2, "view": {"fill": "#8c8c8c", "stroke": null}, "data": {"values": []}, "mark": "point"},
    {"width": 338, "height": 18, "data": {"values": [{"t": "资料来源：wind，同花顺 iFinD，民生证券研究院"}]}, "mark": {"type": "text", "align": "left", "fontSize": 10, "color": "#595959", "font": "Noto Sans CJK SC", "dx": 10}, "encoding": {"text": {"field": "t"}, "x": {"datum": 0, "type": "quantitative", "scale": {"domain": [0, 1]}, "axis": null}}}
  ], "spacing": 0, "resolve": {"scale": {"color": "independent", "strokeDash": "independent"}, "legend": {"color": "independent", "strokeDash": "independent"}}}
 ], "spacing": 19, "resolve": {"scale": {"color": "independent", "strokeDash": "independent"}, "legend": {"color": "independent", "strokeDash": "independent"}}},
{"width": 1, "height": 10, "data": {"values": []}, "mark": "point"},
{"width": 695, "height": 180, "data": {"name": "p1"},
 "encoding": {"y": {"field": "line", "type": "ordinal", "axis": null}, "text": {"field": "t"}},
 "layer": [
   {"transform": [{"filter": "datum.seg == 'start' && !datum.em"}], "mark": {"type": "text", "align": "left", "fontSize": 19, "fontWeight": 300, "color": "#404040", "font": "Noto Sans CJK SC"}, "encoding": {"x": {"datum": 0, "type": "quantitative", "scale": {"domain": [0, 1]}, "axis": null}}},
   {"transform": [{"filter": "datum.seg == 'start' && datum.em"}], "mark": {"type": "text", "align": "left", "fontSize": 19, "fontWeight": "bold", "color": "#262626", "font": "Noto Sans CJK SC"}, "encoding": {"x": {"datum": 0, "type": "quantitative", "scale": {"domain": [0, 1]}, "axis": null}}},
   {"transform": [{"filter": "datum.seg == 'end' && datum.em"}], "mark": {"type": "text", "align": "right", "fontSize": 19, "fontWeight": "bold", "color": "#262626", "font": "Noto Sans CJK SC"}, "encoding": {"x": {"datum": 1, "type": "quantitative", "scale": {"domain": [0, 1]}, "axis": null}}},
   {"transform": [{"filter": "datum.seg == 'end' && !datum.em"}], "mark": {"type": "text", "align": "right", "fontSize": 19, "fontWeight": 300, "color": "#404040", "font": "Noto Sans CJK SC"}, "encoding": {"x": {"datum": 1, "type": "quantitative", "scale": {"domain": [0, 1]}, "axis": null}}}
 ]},
{"width": 1, "height": 11, "data": {"values": []}, "mark": "point"},
{"width": 475, "height": 20, "data": {"values": [{"t": "图8：转债基础策略指数走势（2018-01-01-2024-11-01）"}]}, "mark": {"type": "text", "align": "left", "fontSize": 13.5, "fontWeight": "bold", "color": "#1a1a1a", "font": "Noto Sans CJK SC", "dx": 7, "dy": -2}, "encoding": {"text": {"field": "t"}, "x": {"datum": 0, "type": "quantitative", "scale": {"domain": [0, 1]}, "axis": null}}},
{"width": 475, "height": 2, "view": {"fill": "#7f7f7f", "stroke": null}, "data": {"values": []}, "mark": "point"},
{"width": 475, "height": 230, "data": {"name": "f8"},
 "transform": [{"fold": ["h", "f", "c", "d", "e", "g", "b", "a"], "as": ["key", "v"]}, {"lookup": "key", "from": {"data": {"name": "n8"}, "key": "key", "fields": ["s"]}}],
 "mark": {"type": "line", "strokeWidth": 1.3},
 "encoding": {
   "x": {"field": "date", "type": "temporal", "scale": {"type": "utc", "domain": [{"year": 2018, "month": 1, "date": 1, "utc": true}, {"year": 2024, "month": 11, "date": 1, "utc": true}], "range": [36, 465]},
         "axis": {"title": null, "grid": false, "values": [{"year":2018,"month":1,"date":1,"utc":true},{"year":2019,"month":1,"date":1,"utc":true},{"year":2020,"month":1,"date":1,"utc":true},{"year":2021,"month":1,"date":1,"utc":true},{"year":2022,"month":1,"date":1,"utc":true},{"year":2023,"month":1,"date":1,"utc":true},{"year":2024,"month":1,"date":1,"utc":true}],
                  "format": "%Y/%-m/%-d", "labelAngle": 0, "labelFontSize": 11, "labelColor": "#404040", "labelPadding": 4, "tickSize": 4, "tickColor": "#A6A6A6", "domainColor": "#A6A6A6", "offset": -24, "labelFlush": false, "labelOverlap": false}},
   "y": {"field": "v", "type": "quantitative", "scale": {"domain": [0.5, 4.5], "range": [206, 48], "nice": false, "zero": false},
         "axis": {"title": null, "grid": false, "values": [0.5, 1.5, 2.5, 3.5, 4.5], "format": ".1f", "offset": -36, "tickSize": 4, "tickColor": "#A6A6A6", "domainColor": "#A6A6A6", "labelFontSize": 10, "labelColor": "#404040", "labelPadding": 8}},
   "color": {"field": "s", "type": "nominal",
             "scale": {"domain": ["双低", "低溢价（转股溢价率）", "高股息（正股近12个月股息率）", "高YTM", "低价（转债绝对价格）", "动量（正股20+60日收益率均值）", "小市值", "中证转债指数净值"],
                       "range": ["#C00000", "#F4B9B9", "#DD8A52", "#B4520F", "#404040", "#8C8C8C", "#F3D6A8", "#B0B0B0"]},
             "legend": {"title": null, "orient": "none", "legendX": 66, "legendY": 1, "columns": 2, "columnPadding": 36, "rowPadding": 2, "symbolType": "M-2,0L2,0", "symbolSize": 100, "symbolStrokeWidth": 2, "labelFontSize": 9.5, "labelColor": "#404040", "labelOffset": 6, "padding": 0}}
 }},
{"width": 475, "height": 2, "view": {"fill": "#8c8c8c", "stroke": null}, "data": {"values": []}, "mark": "point"},
{"width": 475, "height": 16, "data": {"values": [{"t": "资料来源：wind，同花顺 iFinD，民生证券研究院"}]}, "mark": {"type": "text", "align": "left", "fontSize": 10, "color": "#595959", "font": "Noto Sans CJK SC", "dx": 8}, "encoding": {"text": {"field": "t"}, "x": {"datum": 0, "type": "quantitative", "scale": {"domain": [0, 1]}, "axis": null}}},
{"width": 1, "height": 13, "data": {"values": []}, "mark": "point"},
{"width": 695, "height": 180, "data": {"name": "p2"},
 "mark": {"type": "text", "align": "left", "fontSize": 19, "fontWeight": 300, "color": "#404040", "font": "Noto Sans CJK SC"},
 "encoding": {"y": {"field": "line", "type": "ordinal", "axis": null}, "text": {"field": "t"}, "x": {"datum": 0, "type": "quantitative", "scale": {"domain": [0, 1]}, "axis": null}}},
{"width": 1, "height": 26, "data": {"values": []}, "mark": "point"},
{"width": 704, "height": 2, "view": {"fill": "#8c8c8c", "stroke": null}, "data": {"values": []}, "mark": "point"},
{"width": 704, "height": 46,
 "layer": [
   {"data": {"values": [{"t": "本公司具备证券投资咨询业务资格，请务必阅读最后一页免责声明"}]}, "mark": {"type": "text", "align": "left", "fontSize": 10.5, "color": "#404040", "font": "Noto Sans CJK SC", "dx": 1}, "encoding": {"text": {"field": "t"}, "x": {"datum": 0, "type": "quantitative", "scale": {"domain": [0, 1]}, "axis": null}}},
   {"data": {"values": [{"t": "证券研究报告　　　　　5"}]}, "mark": {"type": "text", "align": "right", "fontSize": 10.5, "color": "#404040", "font": "Noto Sans CJK SC", "dx": -5}, "encoding": {"text": {"field": "t"}, "x": {"datum": 1, "type": "quantitative", "scale": {"domain": [0, 1]}, "axis": null}}}
 ]}
],
"config": {
  "view": {"stroke": null},
  "font": "Noto Sans CJK SC",
  "axis": {"labelFont": "Noto Sans CJK SC"},
  "legend": {"labelFont": "Noto Sans CJK SC"}
}
}
